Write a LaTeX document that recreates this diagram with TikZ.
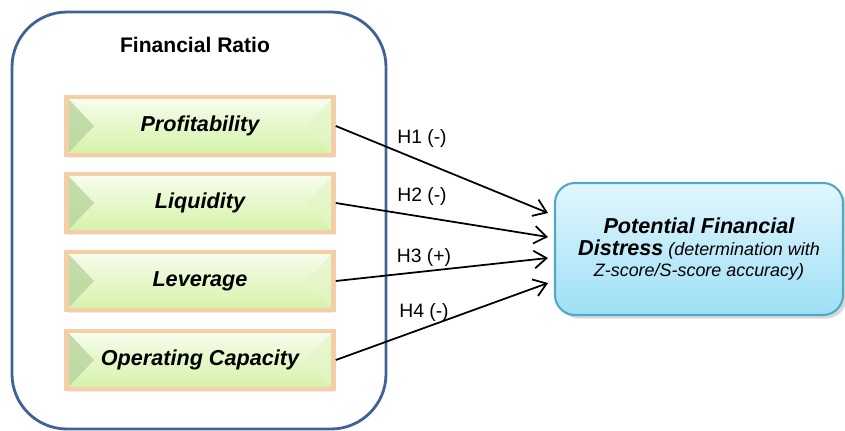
\documentclass[tikz,border=0pt]{standalone}
\usepackage{fontspec}
\setmainfont{Liberation Sans}
\usepackage{tikz}
\usetikzlibrary{
    arrows.meta,
    calc,
    shadows,
    positioning
}

\definecolor{frameblue}{RGB}{65,98,150}
\definecolor{glow}{RGB}{244,206,166}
\definecolor{greentop}{RGB}{248,253,238}
\definecolor{greenbot}{RGB}{212,242,168}
\definecolor{bevelleft}{RGB}{184,212,158}
\definecolor{bevelright}{RGB}{228,246,200}
\definecolor{cyantop}{RGB}{226,246,253}
\definecolor{cyanbot}{RGB}{158,224,246}
\definecolor{cyanline}{RGB}{80,170,198}

\tikzset{
    ratiobox/.style={
        draw=glow, line width=2.6pt, top color=greentop, bottom color=greenbot,
        minimum width=5.34cm, minimum height=1.16cm,
        drop shadow={shadow xshift=0pt, shadow yshift=-1.5pt, opacity=0.15},
        font=\bfseries\itshape\fontsize{12.3}{14}\selectfont,
        path picture={
            \fill[bevelleft, opacity=0.8] (path picture bounding box.north west)
                -- ($(path picture bounding box.west)+(0.55,0)$)
                -- (path picture bounding box.south west) -- cycle;
            \fill[bevelright, opacity=0.7] (path picture bounding box.north east)
                -- ($(path picture bounding box.east)+(-0.55,0)$)
                -- (path picture bounding box.south east) -- cycle;
        }
    },
    hypo/.style={font=\fontsize{11}{13}\selectfont},
    link/.style={->, line width=1pt}
}

\begin{document}
\begin{tikzpicture}[>={Straight Barb[length=7pt,width=10pt]}]
    \useasboundingbox (0,0) rectangle (16.9,-8.6);

    % frame round the ratios
    \node[draw=frameblue, line width=1.6pt, rounded corners=1.1cm,
          minimum width=7.48cm, minimum height=8.34cm] (frame) at (3.98,-4.41) {};
    \node[font=\bfseries\fontsize{12}{14}\selectfont] (title) at (3.9,-0.9) {Financial Ratio};

    \node[ratiobox] (profit) at (4.0,-2.52) {Profitability};
    \node[ratiobox] (liquid) at (4.0,-4.06) {Liquidity};
    \node[ratiobox] (lever) at (4.0,-5.62) {Leverage};
    \node[ratiobox] (opcap) at (4.0,-7.2) {Operating Capacity};

    % target box
    \node[draw=cyanline, line width=1.2pt, rounded corners=0.4cm,
          top color=cyantop, bottom color=cyanbot,
          drop shadow={shadow xshift=2pt, shadow yshift=-2pt, opacity=0.3},
          minimum width=5.76cm, minimum height=2.64cm,
          align=center] (pfd) at (13.98,-4.98)
        {{\bfseries\itshape\fontsize{12.3}{14}\selectfont Potential Financial}\\[1pt]
         {\bfseries\itshape\fontsize{12.3}{14}\selectfont Distress}
         {\itshape\fontsize{10.2}{12}\selectfont (determination with}\\[0pt]
         {\itshape\fontsize{10.2}{12}\selectfont Z-score/S-score accuracy)}};

    \coordinate (in1) at (10.96,-4.26);
    \coordinate (in2) at (10.96,-4.74);
    \coordinate (in3) at (10.96,-5.16);
    \coordinate (in4) at (10.96,-5.66);

    \draw
    (profit.east) edge[link] (in1)
    (liquid.east) edge[link] (in2)
    (lever.east) edge[link] (in3)
    (opcap.east) edge[link] (in4);

    \node[hypo] (h1) at (8.44,-2.76) {H1 (-)};
    \node[hypo] (h2) at (8.44,-3.92) {H2 (-)};
    \node[hypo] (h3) at (8.48,-5.14) {H3 (+)};
    \node[hypo] (h4) at (8.48,-6.24) {H4 (-)};
\end{tikzpicture}
\end{document}
